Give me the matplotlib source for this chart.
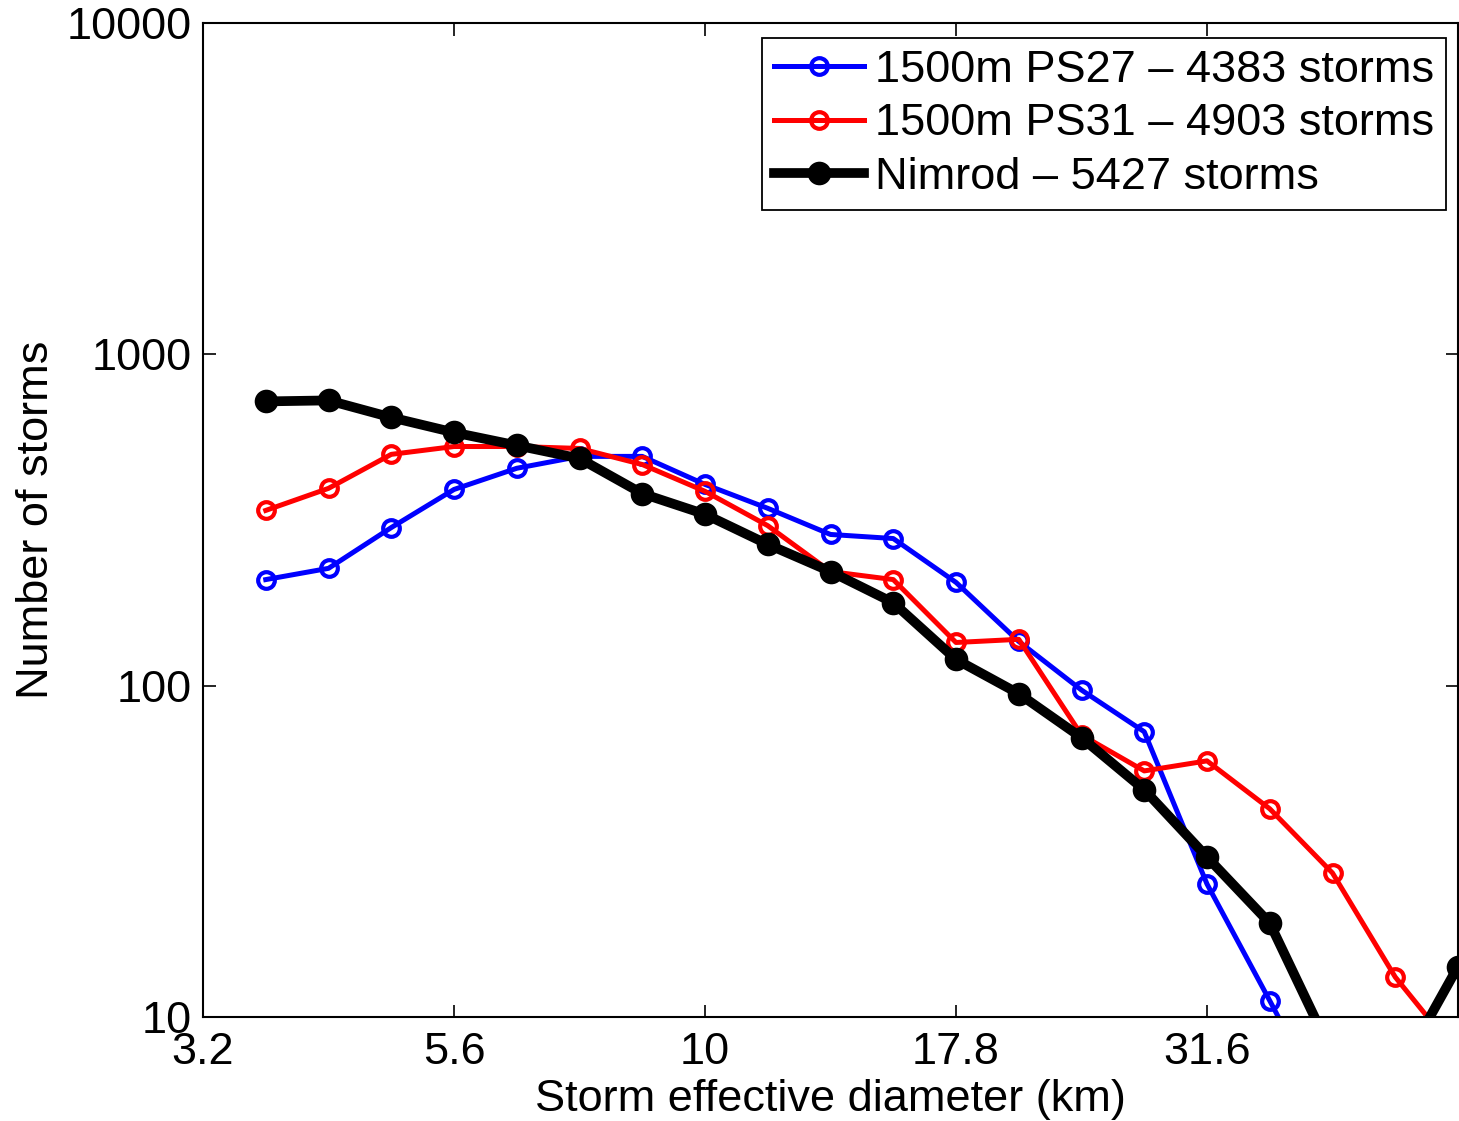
import numpy as np
import matplotlib
matplotlib.use("Agg")
import matplotlib.pyplot as plt
from matplotlib.ticker import FixedLocator, FixedFormatter, NullLocator

plt.rcParams['font.family'] = ['Liberation Sans', 'DejaVu Sans']

# bin centres: log10(d) = 0.5 + k/16
diameter_km = 10 ** (0.5 + np.arange(1, 21) / 16.0)

ps27 = [209, 226, 300, 391, 453, 492, 492, 405, 343, 286, 278, 205, 136, 97, 72.6, 25.2, 11.2, 4.9]
ps31 = [338, 394, 499, 527, 527, 520, 465, 386, 304, 221, 209, 135, 138, 71, 55.3, 59.3, 42.5, 27.2, 13.2, 7.7]
nimrod = [721, 726, 645, 581, 531, 485, 380, 329, 267, 221, 178, 120, 94.6, 69.7, 48.5, 30.4, 19.2, 7.7, 6.5, 14.2]

labels = ["1500m PS27 \u2013 4383 storms", "1500m PS31 \u2013 4903 storms", "Nimrod \u2013 5427 storms"]
xticks = [3.1623, 5.6234, 10.0, 17.7828, 31.6228]
xticklabels = ["3.2", "5.6", "10", "17.8", "31.6"]
yticks = [10, 100, 1000, 10000]
yticklabels = ["10", "100", "1000", "10000"]

FS = 32.5
W, H = 1459, 1121
fig = plt.figure(figsize=(W / 100, H / 100), dpi=100)
ax = fig.add_axes([203 / W, (H - 1017) / H, (1458 - 203) / W, (1017 - 23) / H])

ax.plot(diameter_km[:len(ps27)], ps27, color='#0000ff', lw=3.6, marker='o', ms=12,
        mfc='none', mec='#0000ff', mew=3, label=labels[0])
ax.plot(diameter_km[:len(ps31)], ps31, color='#ff0000', lw=3.6, marker='o', ms=12,
        mfc='none', mec='#ff0000', mew=3, label=labels[1])
ax.plot(diameter_km[:len(nimrod)], nimrod, color='black', lw=7, marker='o', ms=15,
        mfc='black', mec='black', mew=2, label=labels[2])

ax.set_xscale('log')
ax.set_yscale('log')
ax.set_xlim(10 ** 0.5, 10 ** 1.75)
ax.set_ylim(10, 10000)

ax.xaxis.set_major_locator(FixedLocator(xticks))
ax.xaxis.set_major_formatter(FixedFormatter(xticklabels))
ax.xaxis.set_minor_locator(NullLocator())
ax.yaxis.set_major_locator(FixedLocator(yticks))
ax.yaxis.set_major_formatter(FixedFormatter(yticklabels))
ax.yaxis.set_minor_locator(NullLocator())

ax.tick_params(which='both', direction='in', top=True, right=True, length=9, width=1.2,
               labelsize=FS)
ax.tick_params(axis='x', pad=11)
ax.tick_params(axis='y', pad=8)
for s in ax.spines.values():
    s.set_linewidth(1.5)

ax.set_xlabel("Storm effective diameter (km)", fontsize=FS, labelpad=4)
ax.set_ylabel("Number of storms", fontsize=FS, labelpad=7)

leg = ax.legend(loc='upper right', fontsize=FS, frameon=True, fancybox=False,
                edgecolor='black', framealpha=1, borderaxespad=0,
                bbox_to_anchor=(1446 / W, (H - 38) / H), bbox_transform=fig.transFigure,
                handlelength=2.0, handletextpad=0.25, borderpad=0.26,
                labelspacing=0.28)
leg.get_frame().set_linewidth(1.3)

fig.savefig("out.png", dpi=100)
